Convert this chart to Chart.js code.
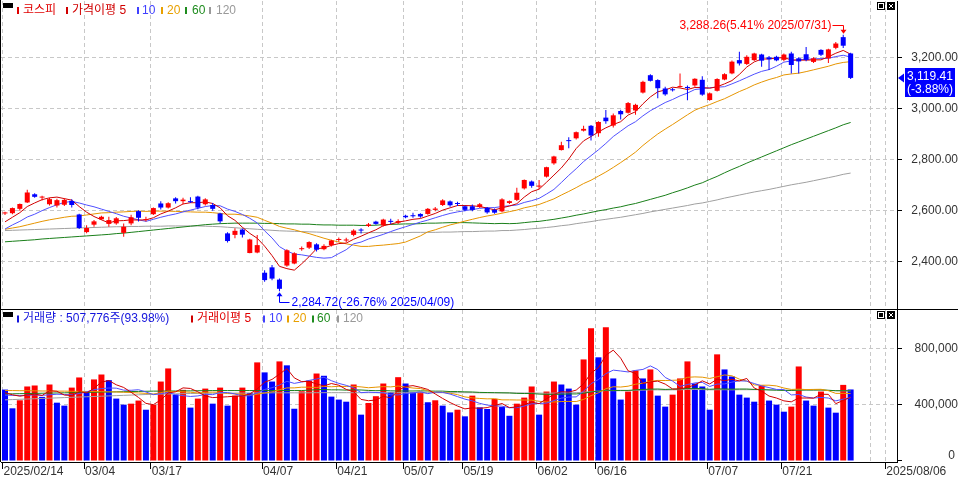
<!DOCTYPE html>
<html lang="ko">
<head>
<meta charset="UTF-8">
<meta name="viewport" content="width=device-width, initial-scale=1.0">
<title>코스피 일봉</title>
<script src="https://cdn.jsdelivr.net/npm/chart.js"></script>
<style>
  html, body { margin: 0; padding: 0; background: #ffffff; }
  #wrap { position: relative; width: 958px; height: 481px; overflow: hidden; }
  #pricePane { position: absolute; left: 0; top: 0; width: 958px; height: 309px; }
  #volumePane { position: absolute; left: 0; top: 309px; width: 958px; height: 172px; }
</style>
</head>
<body>
<div id="wrap">
  <div id="pricePane"><canvas id="priceChart"></canvas></div>
  <div id="volumePane"><canvas id="volumeChart"></canvas></div>
</div>

<script>
// KOSPI daily candles 2025/02/14 - 2025/08/01
const open = [2589,2590,2607,2632,2664,2651,2625,2620,2623,2638,
  2585,2516,2545,2566,2548,2550,2513,2550,2598,2563,
  2586,2628,2612,2648,2637,2637,2655,2625,2622,2589,
  2511,2505,2526,2434,2436,2357,2378,2330,2385,2393,
  2449,2455,2468,2449,2465,2485,2483,2505,2525,2540,
  2557,2542,2560,2553,2580,2582,2587,2587,2603,2622,
  2636,2628,2617,2617,2614,2611,2603,2597,2630,2642,
  2687,2714,2694,2733,2785,2837,2874,2883,2913,2932,
  2903,2964,2933,2990,2983,2992,3062,3130,3111,3078,
  3074,3084,3084,3090,3112,3033,3069,3113,3137,3189,
  3174,3189,3211,3200,3202,3190,3215,3196,3212,3182,
  3229,3196,3237,3279,3215];
const high = [2596,2612,2628,2682,2668,2658,2650,2646,2648,2645,
  2588,2543,2563,2580,2576,2575,2550,2584,2601,2576,
  2612,2637,2633,2652,2650,2652,2658,2648,2630,2592,
  2515,2531,2530,2490,2505,2367,2387,2334,2449,2437,
  2460,2480,2472,2468,2486,2495,2494,2527,2531,2552,
  2560,2568,2568,2566,2584,2592,2590,2610,2614,2645,
  2640,2635,2620,2624,2630,2614,2608,2648,2640,2690,
  2722,2718,2720,2772,2815,2870,2887,2910,2932,2935,
  2950,2994,2980,2995,3025,3018,3108,3134,3114,3085,
  3080,3137,3090,3118,3126,3062,3118,3138,3188,3222,
  3208,3218,3214,3205,3206,3215,3222,3200,3240,3200,
  3232,3234,3260,3288.26,3218];
const low = [2583,2586,2600,2630,2650,2640,2620,2612,2618,2612,
  2528,2511,2537,2563,2537,2545,2498,2543,2557,2557,
  2583,2604,2608,2628,2625,2630,2605,2620,2600,2550,
  2475,2492,2495,2433,2433,2322,2328,2284.72,2380,2390,
  2443,2450,2440,2445,2460,2478,2476,2500,2510,2536,
  2545,2538,2548,2548,2570,2572,2572,2584,2598,2618,
  2615,2618,2598,2598,2610,2588,2588,2594,2626,2638,
  2683,2690,2684,2730,2780,2835,2844,2878,2910,2874,
  2889,2940,2925,2957,2980,2975,3058,3105,3040,3050,
  3066,3082,3032,3085,3050,3030,3066,3110,3134,3168,
  3170,3186,3163,3150,3185,3185,3137,3137,3185,3178,
  3205,3178,3232,3236,3115];
const close = [2591,2610,2626,2671,2654,2654,2645,2641,2642,2622,
  2532,2532,2558,2576,2563,2570,2537,2574,2572,2566,
  2610,2612,2629,2637,2643,2633,2612,2644,2607,2558,
  2481,2521,2506,2487,2465,2328,2334,2294,2445,2433,
  2453,2477,2447,2462,2483,2488,2487,2522,2522,2546,
  2548,2565,2556,2559,2574,2578,2577,2607,2608,2640,
  2621,2626,2603,2603,2625,2593,2592,2644,2637,2670,
  2720,2697,2698,2770,2812,2856,2872,2907,2920,2894,
  2947,2950,2973,2977,3021,3014,3104,3108,3079,3055,
  3071,3087,3080,3116,3054,3059,3115,3134,3183,3176,
  3202,3215,3187,3192,3188,3211,3170,3184,3190,3196,
  3210,3231,3254,3245.44,3119.41];

// price moving averages (가격이평 5 / 10 / 20 / 60 / 120)
const ma5 = [2556,2574,2592,2616,2630,2643,2650,2653,2647,2641,
  2616,2594,2577,2564,2552,2560,2561,2564,2563,2564,
  2572,2587,2598,2611,2626,2631,2631,2634,2628,2611,
  2580,2562,2535,2511,2492,2461,2424,2382,2373,2367,
  2392,2420,2451,2454,2464,2471,2473,2488,2500,2513,
  2525,2541,2547,2555,2560,2566,2569,2579,2589,2602,
  2611,2620,2620,2619,2616,2610,2603,2611,2618,2627,
  2653,2674,2684,2711,2739,2767,2802,2843,2873,2890,
  2908,2924,2937,2948,2974,2987,3018,3045,3065,3072,
  3083,3080,3074,3082,3082,3079,3085,3096,3109,3133,
  3162,3182,3193,3194,3197,3199,3190,3189,3189,3190,
  3190,3202,3216,3227,3212];
const ma10 = [2528,2544,2558,2575,2586,2600,2612,2623,2632,2636,
  2630,2622,2615,2606,2597,2588,2578,2571,2564,2558,
  2566,2574,2581,2587,2595,2602,2609,2616,2620,2619,
  2606,2597,2585,2570,2552,2521,2493,2459,2442,2430,
  2427,2422,2417,2414,2416,2432,2447,2470,2477,2489,
  2498,2507,2518,2528,2537,2546,2555,2563,2572,2581,
  2589,2595,2600,2604,2609,2611,2612,2616,2619,2622,
  2632,2639,2648,2665,2683,2710,2738,2764,2792,2815,
  2838,2863,2890,2911,2932,2948,2971,2991,3007,3023,
  3035,3049,3060,3074,3077,3081,3083,3085,3096,3108,
  3121,3134,3145,3152,3165,3181,3186,3191,3192,3194,
  3195,3196,3203,3208,3201];
const ma20 = [2527,2532,2537,2544,2551,2558,2564,2569,2574,2578,
  2579,2583,2587,2591,2592,2594,2595,2597,2598,2597,
  2598,2598,2598,2597,2596,2595,2594,2594,2592,2589,
  2586,2586,2583,2579,2574,2562,2551,2538,2531,2525,
  2517,2510,2501,2492,2484,2477,2470,2465,2460,2460,
  2463,2465,2468,2471,2477,2489,2501,2517,2525,2535,
  2544,2551,2559,2566,2573,2579,2584,2590,2596,2602,
  2611,2617,2624,2635,2646,2661,2675,2690,2706,2719,
  2735,2751,2769,2788,2808,2829,2855,2878,2900,2919,
  2937,2956,2975,2993,3005,3015,3027,3038,3052,3066,
  3078,3092,3103,3113,3121,3131,3135,3138,3144,3151,
  3158,3165,3174,3180,3183];
const ma60 = [2478,2480,2482,2484,2486,2489,2491,2493,2495,2497,
  2499,2501,2503,2505,2507,2510,2512,2515,2518,2521,
  2524,2527,2530,2533,2536,2539,2542,2545,2547,2549,
  2550,2551,2551,2551,2551,2550,2550,2549,2548,2548,
  2547,2547,2545,2544,2544,2543,2543,2543,2542,2542,
  2543,2545,2546,2547,2548,2548,2549,2551,2551,2552,
  2553,2553,2553,2552,2551,2550,2549,2550,2549,2550,
  2553,2556,2558,2562,2566,2571,2576,2582,2587,2593,
  2599,2604,2610,2615,2622,2628,2636,2644,2652,2660,
  2670,2679,2689,2700,2709,2722,2734,2748,2761,2773,
  2786,2798,2810,2822,2834,2846,2858,2869,2880,2891,
  2902,2913,2924,2936,2945];
const ma120 = [2522,2523,2524,2525,2526,2527,2528,2529,2530,2531,
  2532,2533,2534,2535,2536,2537,2537,2538,2538,2539,
  2539,2539,2540,2540,2540,2540,2540,2539,2538,2537,
  2535,2533,2531,2529,2527,2525,2523,2521,2520,2519,
  2518,2517,2516,2515,2515,2514,2514,2514,2514,2514,
  2514,2514,2514,2514,2514,2515,2515,2515,2515,2516,
  2516,2517,2518,2518,2519,2520,2520,2522,2522,2524,
  2526,2529,2531,2534,2537,2541,2544,2549,2553,2557,
  2562,2566,2570,2574,2579,2584,2589,2595,2600,2605,
  2610,2615,2620,2626,2630,2636,2642,2649,2655,2661,
  2667,2673,2678,2683,2689,2695,2701,2706,2711,2717,
  2723,2729,2735,2742,2747];

// volume (거래량) and its moving averages
const volume = [507000,374000,431000,529000,536000,455000,543000,414000,393000,521000,
  593000,493000,579000,614000,574000,443000,400000,407000,429000,364000,
  400000,564000,657000,471000,505000,379000,443000,514000,407000,521000,
  393000,464000,521000,483000,700000,629000,564000,707000,679000,371000,
  495000,571000,621000,605000,457000,436000,421000,543000,329000,412000,
  460000,550000,490000,595000,550000,489000,491000,417000,431000,393000,
  345000,364000,317000,464000,381000,369000,441000,383000,321000,407000,
  450000,529000,329000,493000,564000,543000,514000,400000,721000,943000,
  736000,950000,586000,436000,493000,643000,586000,650000,464000,386000,
  471000,586000,707000,550000,529000,364000,757000,650000,600000,471000,
  450000,421000,536000,429000,400000,350000,386000,671000,429000,393000,
  493000,379000,343000,540300,507776];
const volumeBefore = 560000; // session before the first bar
const vma5 = [485000,470000,460000,468000,475000,465000,499000,495000,468000,465000,
  493000,483000,516000,560000,571000,541000,522000,488000,451000,409000,
  400000,433000,483000,491000,519000,515000,491000,462000,450000,453000,
  456000,460000,461000,476000,512000,559000,579000,617000,656000,590000,
  563000,565000,547000,533000,550000,538000,508000,492000,437000,428000,
  433000,459000,448000,501000,529000,535000,523000,508000,476000,444000,
  415000,390000,370000,377000,374000,379000,394000,408000,379000,384000,
  400000,418000,407000,442000,473000,492000,489000,503000,548000,624000,
  663000,750000,787000,730000,640000,622000,549000,562000,567000,546000,
  511000,511000,523000,540000,569000,547000,581000,570000,580000,568000,
  586000,518000,496000,461000,447000,427000,420000,447000,447000,446000,
  474000,473000,407000,430000,453000];
const vma10 = [468000,466000,465000,466000,470000,466000,470000,474000,472000,470000,
  479000,491000,506000,514000,518000,517000,503000,502000,506000,490000,
  471000,478000,486000,471000,464000,458000,462000,473000,471000,486000,
  486000,476000,462000,463000,483000,508000,520000,539000,566000,551000,
  561000,572000,582000,595000,570000,551000,537000,520000,485000,489000,
  486000,484000,470000,469000,479000,484000,491000,478000,489000,487000,
  475000,457000,439000,427000,409000,397000,392000,389000,378000,379000,
  390000,406000,408000,411000,429000,446000,454000,455000,495000,549000,
  578000,620000,645000,639000,632000,643000,650000,675000,649000,593000,
  567000,530000,543000,554000,558000,529000,546000,547000,560000,569000,
  567000,550000,533000,521000,508000,507000,469000,472000,454000,447000,
  451000,447000,427000,439000,450000];
const vma20 = [500000,500000,499000,499000,498000,497000,497000,496000,496000,495000,
  494000,494000,493000,492000,491000,490000,488000,486000,483000,480000,
  475000,485000,496000,493000,491000,488000,483000,488000,489000,488000,
  479000,477000,474000,467000,474000,483000,491000,506000,519000,519000,
  524000,524000,522000,529000,527000,530000,529000,530000,526000,520000,
  524000,528000,526000,532000,525000,518000,514000,499000,487000,488000,
  481000,471000,455000,448000,444000,441000,442000,434000,434000,433000,
  433000,432000,424000,419000,419000,422000,423000,422000,437000,464000,
  484000,513000,527000,525000,531000,545000,552000,565000,572000,571000,
  573000,575000,594000,597000,595000,586000,598000,611000,605000,581000,
  567000,540000,538000,538000,533000,518000,508000,510000,507000,508000,
  509000,499000,480000,480000,479000];
const vma60 = [476000,477000,478000,479000,480000,481000,482000,483000,484000,485000,
  486000,487000,488000,489000,490000,491000,492000,493000,494000,495000,
  496000,496000,497000,497000,498000,498000,499000,499000,500000,500000,
  500000,500000,500000,500000,500000,500000,500000,500000,500000,500000,
  500000,503000,506000,507000,505000,505000,503000,505000,504000,501000,
  499000,500000,498000,497000,497000,497000,498000,497000,496000,496000,
  493000,493000,491000,490000,487000,486000,485000,484000,483000,480000,
  479000,479000,475000,473000,473000,474000,476000,476000,481000,490000,
  496000,503000,501000,501000,501000,505000,508000,510000,511000,508000,
  510000,512000,515000,516000,513000,509000,512000,511000,510000,511000,
  511000,508000,507000,504000,503000,501000,501000,503000,504000,504000,
  505000,502000,499000,499000,498000];
const vma120 = [434000,436000,438000,440000,442000,444000,446000,448000,450000,452000,
  454000,456000,458000,460000,462000,464000,466000,468000,470000,472000,
  474000,475000,476000,477000,478000,479000,480000,480000,481000,481000,
  482000,482000,482000,483000,483000,483000,484000,484000,484000,484000,
  484000,484000,485000,485000,485000,485000,485000,485000,485000,485000,
  485000,485000,485000,485000,485000,485000,485000,485000,485000,485000,
  485000,485000,485000,485000,484000,484000,484000,484000,484000,483000,
  483000,483000,482000,481000,482000,483000,484000,485000,488000,493000,
  496000,500000,499000,499000,499000,502000,503000,505000,505000,504000,
  505000,506000,508000,508000,507000,505000,506000,506000,505000,506000,
  506000,506000,507000,506000,504000,503000,502000,504000,504000,503000,
  502000,501000,499000,498000,498000];

// date axis: bar index of each labelled session, and its label
const dateTicks = [0, 11, 20, 35, 45, 54, 62, 72, 80, 95, 105, 117, 119];
const dateLabels = ['2025/02/14', '03/04', '03/17', '04/07', '04/21', '05/07', '05/19',
  '06/02', '06/16', '07/07', '07/21', '', '2025/08/06'];
const priceTicks = [2400, 2600, 2800, 3000, 3200];
const volumeTicks = [0, 400000, 800000];
const hiDate = '2025/07/31';
const loDate = '2025/04/09';

// ---------------------------------------------------------------
const RED = '#ff0000', BLUE = '#0000ff', GRID = '#c8c8c8';
const FONT = '"Liberation Sans", "Noto Sans CJK KR", sans-serif';
const X_MIN = -0.539, X_MAX = 120.25;
Chart.defaults.font.family = FONT;
Chart.defaults.font.size = 12;

const n = close.length;
const last = close[n - 1];
const fmt2 = v => v.toLocaleString('en-US', { minimumFractionDigits: 2, maximumFractionDigits: 2 });
const pctOf = v => ((v - last) / last * 100).toFixed(2);
const idx = close.map((_, i) => i);
const candleColor = idx.map(i => close[i] >= open[i] ? RED : BLUE);
const volumeColor = idx.map(i => volume[i] >= (i ? volume[i - 1] : volumeBefore) ? RED : BLUE);
const pts = arr => arr.map((v, i) => ({ x: i, y: v }));

const barBase = { type: 'bar', grouped: false, barPercentage: 1, categoryPercentage: 1, inflateAmount: 0, borderWidth: 0 };
const maLine = (arr, color, order) => ({
  type: 'line', data: pts(arr), borderColor: color, borderWidth: 1,
  pointRadius: 0, tension: 0, fill: false, order
});

function xScale(showLabels) {
  return {
    type: 'linear', min: X_MIN, max: X_MAX, offset: false,
    afterBuildTicks: s => { s.ticks = dateTicks.map(v => ({ value: v - 0.34 })); },
    afterFit: s => { s.height = showLabels ? 19 : 0; s.paddingLeft = 0; s.paddingRight = 0; },
    grid: {
      color: GRID, offset: false, drawTicks: showLabels, tickLength: 7, tickBorderDash: [],
      tickColor: c => dateLabels[c.index] ? '#000' : 'rgba(0,0,0,0)'
    },
    border: { display: showLabels, color: '#000', dash: [4, 3] },
    ticks: {
      display: showLabels, autoSkip: false, maxRotation: 0, minRotation: 0,
      align: 'start', labelOffset: 1, padding: -5, color: '#333',
      font: { family: FONT, size: 12 },
      callback: (v, i) => dateLabels[i]
    }
  };
}

function yScale(min, max, ticks, fmt, pad) {
  return {
    type: 'linear', position: 'right', min, max,
    afterBuildTicks: s => { s.ticks = ticks.map(v => ({ value: v })); },
    afterFit: s => { s.width = 61; s.paddingTop = 0; s.paddingBottom = 0; },
    grid: {
      color: c => (c.tick && c.tick.value === 0) ? 'rgba(0,0,0,0)' : GRID,
      tickLength: 5, tickColor: '#000', tickBorderDash: []
    },
    border: { color: '#000', dash: [4, 3] },
    ticks: { crossAlign: 'far', padding: pad, color: '#333', font: { family: FONT, size: 12 }, callback: fmt }
  };
}

function drawLegend(ctx, items, y) {
  ctx.fillStyle = '#000';
  ctx.fillRect(3, 3, 10, 5);
  ctx.font = '12px ' + FONT;
  ctx.textAlign = 'left';
  ctx.textBaseline = 'middle';
  items.forEach(it => {
    ctx.fillStyle = it.m;
    ctx.fillRect(it.mx, y - 3.5, 2, 7);
    ctx.fillStyle = it.c;
    ctx.fillText(it.t, it.x, y);
  });
}

function drawIcons(ctx, right) {
  const x = right - 20;
  ctx.lineWidth = 1;
  ctx.fillStyle = '#fff';
  ctx.fillRect(x, 2, 8, 8);
  ctx.strokeStyle = '#000';
  ctx.strokeRect(x + 0.5, 2.5, 7, 7);
  ctx.fillStyle = '#000';
  ctx.fillRect(x + 2, 4, 4, 4);
  ctx.fillRect(x + 10, 2, 8, 8);
  ctx.strokeStyle = '#fff';
  ctx.beginPath();
  ctx.moveTo(x + 12, 4); ctx.lineTo(x + 16, 8);
  ctx.moveTo(x + 16, 4); ctx.lineTo(x + 12, 8);
  ctx.stroke();
}

function drawFrame(ctx, chart, topLine) {
  ctx.strokeStyle = '#000';
  ctx.lineWidth = 1;
  ctx.beginPath();
  ctx.moveTo(0.5, 0);
  ctx.lineTo(0.5, chart.chartArea.bottom);
  if (topLine) { ctx.moveTo(0, 0.5); ctx.lineTo(chart.width, 0.5); }
  ctx.stroke();
}

const priceLegend = [
  { t: '코스피', x: 23, mx: 17, c: '#e00000', m: '#e00000' },
  { t: '가격이평 5', x: 72, mx: 66, c: '#d00000', m: '#d00000' },
  { t: '10', x: 142, mx: 137, c: '#4040ff', m: '#4040ff' },
  { t: '20', x: 167, mx: 161, c: '#e8a000', m: '#e8a000' },
  { t: '60', x: 192, mx: 185, c: '#1e8c1e', m: '#1e8c1e' },
  { t: '120', x: 216, mx: 209, c: '#999999', m: '#999999' }
];

const volText = '거래량 : ' + volume[n - 1].toLocaleString('en-US') + '주(' +
  (volume[n - 1] / volume[n - 2] * 100).toFixed(2) + '%)';
const volumeLegend = [
  { t: volText, x: 23, mx: 17, c: '#1414dc', m: '#1414dc' },
  { t: '거래이평 5', x: 197, mx: 191, c: '#e00000', m: '#d00000' },
  { t: '10', x: 269, mx: 263, c: '#4040ff', m: '#4040ff' },
  { t: '20', x: 293, mx: 287, c: '#e8a000', m: '#e8a000' },
  { t: '60', x: 317, mx: 312, c: '#1e8c1e', m: '#1e8c1e' },
  { t: '120', x: 343, mx: 337, c: '#999999', m: '#999999' }
];

const priceDecor = {
  id: 'priceDecor',
  afterDraw(chart) {
    const ctx = chart.ctx, xs = chart.scales.x, ys = chart.scales.y;
    ctx.save();
    drawFrame(ctx, chart, false);
    drawLegend(ctx, priceLegend, 10.5);
    drawIcons(ctx, chart.chartArea.right);

    ctx.font = '12px ' + FONT;
    ctx.textBaseline = 'middle';
    ctx.lineWidth = 1;

    // highest high
    const hi = Math.max(...high), hiIdx = high.indexOf(hi);
    const hx = Math.round(xs.getPixelForValue(hiIdx)) + 0.5;
    const hy = ys.getPixelForValue(hi);
    const hl = Math.round(hy - 10) + 0.5;
    ctx.fillStyle = RED; ctx.strokeStyle = RED;
    ctx.textAlign = 'right';
    ctx.fillText(fmt2(hi) + '(' + pctOf(hi) + '% ' + hiDate + ')', hx - 12, hl);
    ctx.beginPath();
    ctx.moveTo(hx - 11, hl); ctx.lineTo(hx, hl); ctx.lineTo(hx, hy - 4);
    ctx.stroke();
    ctx.beginPath();
    ctx.moveTo(hx - 3, hy - 5); ctx.lineTo(hx + 3, hy - 5); ctx.lineTo(hx, hy - 1);
    ctx.closePath(); ctx.fill();

    // lowest low
    const lo = Math.min(...low), loIdx = low.indexOf(lo);
    const lx = Math.round(xs.getPixelForValue(loIdx)) + 0.5;
    const ly = ys.getPixelForValue(lo);
    const ll = Math.round(ly + 11) + 0.5;
    ctx.fillStyle = BLUE; ctx.strokeStyle = BLUE;
    ctx.beginPath();
    ctx.moveTo(lx, ly + 4); ctx.lineTo(lx, ll); ctx.lineTo(lx + 10, ll);
    ctx.stroke();
    ctx.beginPath();
    ctx.moveTo(lx - 3, ly + 5); ctx.lineTo(lx + 3, ly + 5); ctx.lineTo(lx, ly + 1);
    ctx.closePath(); ctx.fill();
    ctx.textAlign = 'left';
    ctx.fillText(fmt2(lo) + '(' + pctOf(lo) + '% ' + loDate + ')', lx + 12, ll);

    // current price tag on the axis
    const cy = ys.getPixelForValue(last);
    const ax = ys.left;
    const chg = ((last - close[n - 2]) / close[n - 2] * 100).toFixed(2);
    ctx.fillStyle = BLUE;
    ctx.beginPath();
    ctx.moveTo(ax + 1, cy); ctx.lineTo(ax + 7, cy - 4.5); ctx.lineTo(ax + 7, cy + 4.5);
    ctx.closePath(); ctx.fill();
    ctx.fillRect(ax + 8, Math.round(cy) - 10, 50, 29);
    ctx.fillStyle = '#ffffff';
    ctx.textAlign = 'left';
    ctx.fillText(fmt2(last), ax + 10, cy - 1);
    ctx.fillText('(' + chg + '%)', ax + 10, cy + 12);
    ctx.restore();
  }
};

const volumeDecor = {
  id: 'volumeDecor',
  afterDraw(chart) {
    const ctx = chart.ctx, ys = chart.scales.y;
    ctx.save();
    drawFrame(ctx, chart, true);
    drawLegend(ctx, volumeLegend, 10);
    drawIcons(ctx, chart.chartArea.right);
    ctx.font = '12px ' + FONT;
    ctx.fillStyle = '#333';
    ctx.textAlign = 'right';
    ctx.textBaseline = 'middle';
    ctx.fillText('0', chart.width - 3, ys.getPixelForValue(0) - 5);
    ctx.restore();
  }
};

const common = {
  responsive: true,
  maintainAspectRatio: false,
  animation: false,
  events: [],
  plugins: { legend: { display: false }, tooltip: { enabled: false } }
};

new Chart(document.getElementById('priceChart'), {
  type: 'bar',
  data: {
    datasets: [
      Object.assign({}, barBase, {
        data: idx.map(i => ({ x: i, y: [open[i], close[i]] })),
        backgroundColor: candleColor, barThickness: 5, maxBarThickness: 5, minBarLength: 1, order: 0
      }),
      Object.assign({}, barBase, {
        data: idx.map(i => ({ x: i, y: [low[i], high[i]] })),
        backgroundColor: candleColor, barThickness: 1, maxBarThickness: 1, order: 1
      }),
      maLine(ma5, '#d00000', 2),
      maLine(ma10, '#5050ff', 3),
      maLine(ma20, '#e69500', 4),
      maLine(ma60, '#1a7f1a', 5),
      maLine(ma120, '#a0a0a0', 6)
    ]
  },
  options: Object.assign({}, common, {
    layout: { padding: { top: 1, left: 1, right: 0, bottom: 0 } },
    scales: {
      x: xScale(false),
      y: yScale(2215, 3420.4, priceTicks, v => fmt2(v), 6)
    }
  }),
  plugins: [priceDecor]
});

new Chart(document.getElementById('volumeChart'), {
  type: 'bar',
  data: {
    datasets: [
      maLine(vma5, '#d00000', 0),
      maLine(vma10, '#5050ff', 1),
      maLine(vma20, '#e69500', 2),
      maLine(vma60, '#1a7f1a', 3),
      maLine(vma120, '#a0a0a0', 4),
      Object.assign({}, barBase, {
        data: pts(volume),
        backgroundColor: volumeColor, barThickness: 6, maxBarThickness: 6, order: 5
      })
    ]
  },
  options: Object.assign({}, common, {
    layout: { padding: { top: 1, left: 1, right: 0, bottom: 0 } },
    scales: {
      x: xScale(true),
      y: yScale(-7100, 1071870, volumeTicks, v => v === 0 ? '' : v.toLocaleString('en-US'), 10)
    }
  }),
  plugins: [volumeDecor]
});
</script>
</body>
</html>
